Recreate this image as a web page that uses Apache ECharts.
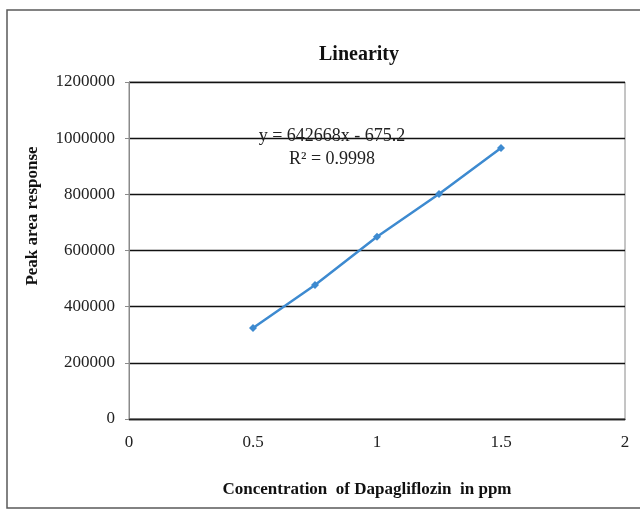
<!DOCTYPE html>
<html>
<head>
<meta charset="utf-8">
<script src="https://cdn.jsdelivr.net/npm/echarts@6/dist/echarts.min.js"></script>
<style>html,body{margin:0;padding:0;background:#fff;}#c{width:640px;height:511px;}</style>
</head>
<body>
<div id="c"></div>
<script>
const concentrations = [0.5, 0.75, 1.0, 1.25, 1.5];
const peakAreas = [324000, 477000, 649000, 801000, 965000];
const xTicks = [0, 0.5, 1, 1.5, 2];
const yTicks = [0, 200000, 400000, 600000, 800000, 1000000, 1200000];
const titleText = 'Linearity';
const equationText = 'y = 642668x - 675.2';
const r2Text = 'R\u00B2 = 0.9998';
const xName = 'Concentration  of Dapagliflozin  in ppm';
const yName = 'Peak area response';

const serif = '"Liberation Serif", "DejaVu Serif", serif';
const chart = echarts.init(document.getElementById('c'), null, {renderer: 'canvas'});
chart.setOption({
  backgroundColor: '#fff',
  animation: false,
  title: {
    text: titleText, left: 354, top: 40, textAlign: 'center',
    textStyle: {fontFamily: serif, fontSize: 20, fontWeight: 'bold', color: '#111'}
  },
  grid: {left: 129, top: 82, width: 496, height: 337, show: true, borderColor: '#8a8a8a', borderWidth: 1, backgroundColor: 'transparent'},
  xAxis: {
    type: 'value', min: xTicks[0], max: xTicks[xTicks.length - 1], interval: 0.5,
    name: xName, nameLocation: 'middle', nameGap: 62,
    nameTextStyle: {fontFamily: serif, fontSize: 17, fontWeight: 'bold', color: '#111', padding: [0, 0, 0, -20]},
    axisLine: {show: true, onZero: false, lineStyle: {color: '#222', width: 1.3}},
    axisTick: {show: false},
    splitLine: {show: false},
    axisLabel: {fontFamily: serif, fontSize: 17, color: '#222', margin: 15,
      formatter: v => String(v)}
  },
  yAxis: {
    type: 'value', min: yTicks[0], max: yTicks[yTicks.length - 1], interval: 200000,
    axisLine: {show: true, lineStyle: {color: '#8a8a8a', width: 1}},
    axisTick: {show: true, length: 4, inside: false, lineStyle: {color: '#8a8a8a'}},
    splitLine: {show: true, lineStyle: {color: '#111', width: 1.3}},
    axisLabel: {fontFamily: serif, fontSize: 17, color: '#222', margin: 14,
      formatter: v => String(v)}
  },
  series: [{
    type: 'line',
    data: concentrations.map((x, i) => [x, peakAreas[i]]),
    symbol: 'diamond', symbolSize: 8,
    lineStyle: {color: '#3d8ad0', width: 2.5},
    itemStyle: {color: '#3d8ad0'},
    z: 5
  }],
  graphic: [
    {type: 'rect', shape: {x: 7, y: 10, width: 700, height: 498}, style: {fill: 'none', stroke: '#5a5a5a', lineWidth: 1.5}, silent: true, z: -10},
    {type: 'text', x: 33, y: 216, rotation: Math.PI / 2, z: 10, style: {text: yName, fontFamily: serif, fontSize: 17, fontWeight: 'bold', fill: '#111', textAlign: 'center', textVerticalAlign: 'middle'}},
    {type: 'text', x: 332, y: 136, z: 10, style: {text: equationText, fontFamily: serif, fontSize: 18, fill: '#222', textAlign: 'center', textVerticalAlign: 'middle'}},
    {type: 'text', x: 332, y: 159, z: 10, style: {text: r2Text, fontFamily: serif, fontSize: 18, fill: '#222', textAlign: 'center', textVerticalAlign: 'middle'}}
  ]
});
</script>
</body>
</html>
